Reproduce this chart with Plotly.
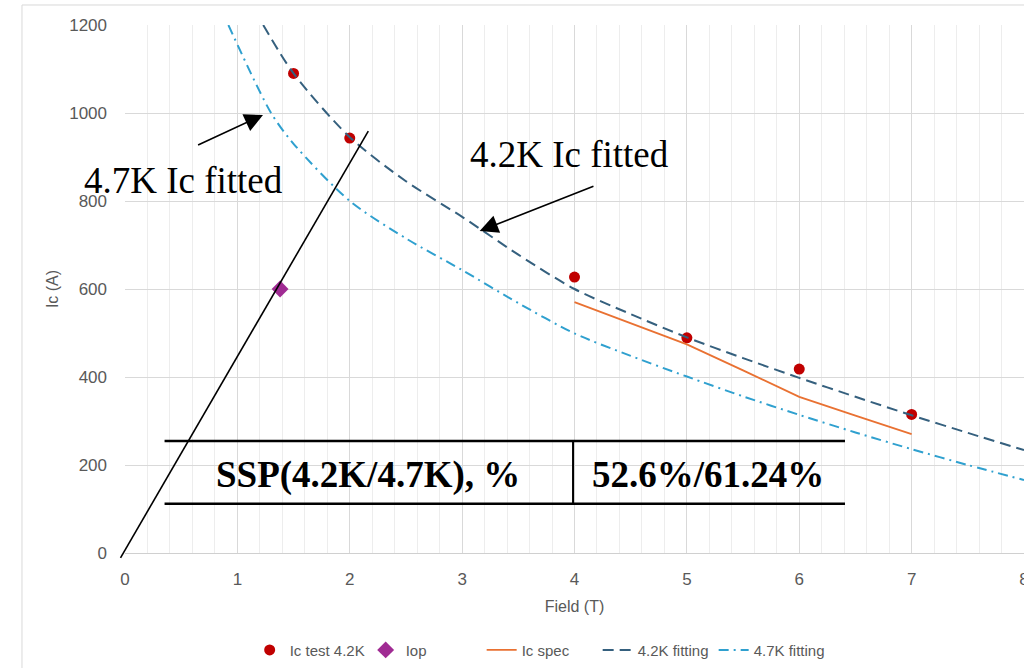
import plotly.graph_objects as go

# ---------------- data ----------------
ic_test_field = [1.5, 2, 4, 5, 6, 7]
ic_test_value = [1090, 943, 627, 489, 418, 315]

iop_field = [1.38]
iop_value = [600]

ic_spec_field = [4, 4.5, 5, 5.5, 6, 6.5, 7]
ic_spec_value = [570, 522, 474, 415, 355, 312, 270]

fit42_field = [1.23, 1.5, 2, 2.5, 3, 3.5, 4, 4.5, 5, 5.5, 6, 6.5, 7, 7.5, 8]
fit42_value = [1200, 1090, 945, 845, 764, 678, 600, 543, 490, 443, 398, 355, 313, 273, 234]

fit47_field = [0.92, 1.3, 1.5, 2, 2.5, 3, 3.5, 4, 4.5, 5, 5.5, 6, 6.5, 7, 7.5, 8]
fit47_value = [1200, 1000, 930, 800, 715, 643, 568, 499, 448, 401, 356, 314, 274, 236, 200, 166]

load_line_x = [-0.04, 2.165]
load_line_y = [-11, 959]

x_ticks = [0, 1, 2, 3, 4, 5, 6, 7, 8]
y_ticks = [0, 200, 400, 600, 800, 1000, 1200]

table_left_label = "SSP(4.2K/4.7K), %"
table_right_label = "52.6%/61.24%"

X_MAX = 8.0
Y_MAX = 1200.0

GRAY = "#595959"
SERIF = "Liberation Serif, Times New Roman, serif"
SANS = "Liberation Sans, Arial, sans-serif"


def px(xv):
    return xv / X_MAX


def py(yv):
    return yv / Y_MAX


fig = go.Figure()

fig.add_trace(go.Scatter(
    x=ic_test_field, y=ic_test_value, mode="markers", name="Ic test 4.2K",
    marker=dict(color="#C00000", size=11, symbol="circle"),
))
fig.add_trace(go.Scatter(
    x=iop_field, y=iop_value, mode="markers", name="Iop",
    marker=dict(color="#A02B93", size=13, symbol="diamond"),
))
fig.add_trace(go.Scatter(
    x=ic_spec_field, y=ic_spec_value, mode="lines", name="Ic spec",
    line=dict(color="#E97132", width=1.8),
))
fig.add_trace(go.Scatter(
    x=fit42_field, y=fit42_value, mode="lines", name="4.2K fitting",
    line=dict(color="#35607E", width=2, dash="11px,6px", shape="spline", smoothing=0.8),
))
fig.add_trace(go.Scatter(
    x=fit47_field, y=fit47_value, mode="lines", name="4.7K fitting",
    line=dict(color="#2FA0CF", width=2, dash="10px,5px,2px,5px", shape="spline", smoothing=0.8),
))

# Load line (paper coords so it is not clipped at the axes)
fig.add_shape(type="line", xref="paper", yref="paper",
              x0=px(load_line_x[0]), y0=py(load_line_y[0]),
              x1=px(load_line_x[1]), y1=py(load_line_y[1]),
              line=dict(color="black", width=1.6))

# Table lines
tbl_x0, tbl_x1, tbl_xmid = 0.352, 6.407, 3.987
tbl_ytop, tbl_ybot = 254.5, 112
for yy in (tbl_ytop, tbl_ybot):
    fig.add_shape(type="line", xref="x", yref="y", x0=tbl_x0, x1=tbl_x1, y0=yy, y1=yy,
                  line=dict(color="black", width=2.5))
fig.add_shape(type="line", xref="x", yref="y", x0=tbl_xmid, x1=tbl_xmid, y0=tbl_ytop, y1=tbl_ybot,
              line=dict(color="black", width=2))

fig.add_annotation(x=2.162, y=178, xref="x", yref="y", text="<b>" + table_left_label + "</b>",
                   showarrow=False, font=dict(family=SERIF, size=37, color="black"),
                   xanchor="center", yanchor="middle")
fig.add_annotation(x=5.186, y=178, xref="x", yref="y", text="<b>" + table_right_label + "</b>",
                   showarrow=False, font=dict(family=SERIF, size=37, color="black"),
                   xanchor="center", yanchor="middle")

# Callout texts (paper coords so they may sit left of the axis)
fig.add_annotation(x=px(-0.38), y=py(846), xref="paper", yref="paper", text="4.7K Ic fitted",
                   showarrow=False, font=dict(family=SERIF, size=37, color="black"),
                   xanchor="left", yanchor="middle")
fig.add_annotation(x=px(3.056), y=py(906), xref="paper", yref="paper", text="4.2K Ic fitted",
                   showarrow=False, font=dict(family=SERIF, size=37, color="black"),
                   xanchor="left", yanchor="middle")

# Arrows
fig.add_annotation(x=1.228, y=995.5, ax=0.637, ay=925.7, xref="x", yref="y", axref="x", ayref="y",
                   text="", showarrow=True, arrowhead=2, arrowsize=2.3, arrowwidth=1.6,
                   arrowcolor="black")
fig.add_annotation(x=3.156, y=731.8, ax=4.182, ay=834.8, xref="x", yref="y", axref="x", ayref="y",
                   text="", showarrow=True, arrowhead=2, arrowsize=2.3, arrowwidth=1.6,
                   arrowcolor="black")

# Chart-area border (light gray), partly outside the picture
fig.add_shape(type="rect", xref="paper", yref="paper",
              x0=-0.1146, y0=-0.30, x1=1.2, y1=1.0379,
              line=dict(color="#D9D9D9", width=1), fillcolor="rgba(0,0,0,0)", layer="below")

fig.update_layout(
    template="none",
    width=1024, height=668,
    margin=dict(l=125, r=0, t=25, b=115, pad=0),
    paper_bgcolor="white", plot_bgcolor="white",
    font=dict(family=SANS, color=GRAY),
    showlegend=True,
    legend=dict(orientation="h", x=px(3.69), xanchor="center", y=-0.184, yanchor="middle",
                font=dict(size=15, color=GRAY, family=SANS), bgcolor="rgba(0,0,0,0)",
                traceorder="normal", entrywidth=71, entrywidthmode="pixels"),
)

fig.update_xaxes(
    range=[0, X_MAX], tickmode="array", tickvals=x_ticks, ticktext=[str(v) for v in x_ticks],
    showgrid=True, gridcolor="#D9D9D9", gridwidth=1,
    minor=dict(dtick=0.2, tick0=0, showgrid=True, gridcolor="#EDEDED", gridwidth=1),
    zeroline=False, showline=True, linecolor="#D0D0D0", linewidth=1,
    ticks="", tickfont=dict(size=17, color=GRAY), ticklabelstandoff=11,
    ticklabeloverflow="allow",
    title=dict(text="Field (T)", font=dict(size=16, color=GRAY), standoff=12),
    automargin=False,
)
fig.update_yaxes(
    range=[0, Y_MAX], tickmode="array", tickvals=y_ticks, ticktext=[str(v) for v in y_ticks],
    showgrid=True, gridcolor="#D9D9D9", gridwidth=1,
    zeroline=False, showline=False,
    ticks="", tickfont=dict(size=17, color=GRAY), ticklabelstandoff=17,
    title=dict(text="Ic (A)", font=dict(size=16, color=GRAY), standoff=6),
    automargin=False,
)

fig.write_html("out.html", config={"displayModeBar": False},
               post_script="document.body.style.margin='0';")
